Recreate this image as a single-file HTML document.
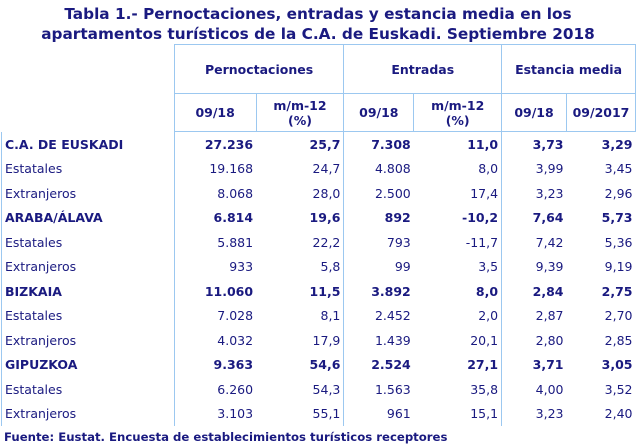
<!DOCTYPE html>
<html><head><meta charset="utf-8"><style>
body{margin:0;width:636px;height:448px;background:#fff;font-family:"DejaVu Sans","Liberation Sans",sans-serif;color:#1a1a80;position:relative;overflow:hidden}
.t{position:absolute;left:0;top:4px;width:636px;text-align:center;font-weight:bold;font-size:15.3px;line-height:20px;color:#1a1a80}
table{position:absolute;left:1px;top:44px;border-collapse:collapse;table-layout:fixed;font-size:12.5px}
td{padding:0 3px;height:24.5px;text-align:right;white-space:nowrap}
td:first-child{text-align:left;padding-left:3px}
.b td{font-weight:bold}
.h td{text-align:center;font-weight:bold;border:1px solid #9cc8f0}
.h td.e{border:none;border-right:1px solid #9cc8f0}
.v{border-left:1px solid #9cc8f0}
tbody tr td:first-child{border-left:1px solid #9cc8f0}
.f{position:absolute;left:4px;top:430px;font-weight:bold;font-size:11.7px}
</style></head><body>
<div class="t">Tabla 1.- Pernoctaciones, entradas y estancia media en los<br>apartamentos turísticos de la C.A. de Euskadi. Septiembre 2018</div>
<table>
<colgroup><col style="width:173px"><col style="width:82px"><col style="width:88px"><col style="width:70px"><col style="width:88px"><col style="width:65px"><col style="width:69px"></colgroup>
<thead>
<tr class="h" style="height:49px"><td class="e" rowspan="1"></td><td colspan="2">Pernoctaciones</td><td colspan="2">Entradas</td><td colspan="2">Estancia media</td></tr>
<tr class="h" style="height:38px"><td class="e"></td><td>09/18</td><td style="line-height:15px">m/m-12<br>(%)</td><td>09/18</td><td style="line-height:15px">m/m-12<br>(%)</td><td>09/18</td><td>09/2017</td></tr>
</thead>
<tbody>
<tr class="b"><td>C.A. DE EUSKADI</td><td class="v">27.236</td><td>25,7</td><td class="v">7.308</td><td>11,0</td><td class="v">3,73</td><td>3,29</td></tr>
<tr><td>Estatales</td><td class="v">19.168</td><td>24,7</td><td class="v">4.808</td><td>8,0</td><td class="v">3,99</td><td>3,45</td></tr>
<tr><td>Extranjeros</td><td class="v">8.068</td><td>28,0</td><td class="v">2.500</td><td>17,4</td><td class="v">3,23</td><td>2,96</td></tr>
<tr class="b"><td>ARABA/ÁLAVA</td><td class="v">6.814</td><td>19,6</td><td class="v">892</td><td>-10,2</td><td class="v">7,64</td><td>5,73</td></tr>
<tr><td>Estatales</td><td class="v">5.881</td><td>22,2</td><td class="v">793</td><td>-11,7</td><td class="v">7,42</td><td>5,36</td></tr>
<tr><td>Extranjeros</td><td class="v">933</td><td>5,8</td><td class="v">99</td><td>3,5</td><td class="v">9,39</td><td>9,19</td></tr>
<tr class="b"><td>BIZKAIA</td><td class="v">11.060</td><td>11,5</td><td class="v">3.892</td><td>8,0</td><td class="v">2,84</td><td>2,75</td></tr>
<tr><td>Estatales</td><td class="v">7.028</td><td>8,1</td><td class="v">2.452</td><td>2,0</td><td class="v">2,87</td><td>2,70</td></tr>
<tr><td>Extranjeros</td><td class="v">4.032</td><td>17,9</td><td class="v">1.439</td><td>20,1</td><td class="v">2,80</td><td>2,85</td></tr>
<tr class="b"><td>GIPUZKOA</td><td class="v">9.363</td><td>54,6</td><td class="v">2.524</td><td>27,1</td><td class="v">3,71</td><td>3,05</td></tr>
<tr><td>Estatales</td><td class="v">6.260</td><td>54,3</td><td class="v">1.563</td><td>35,8</td><td class="v">4,00</td><td>3,52</td></tr>
<tr><td>Extranjeros</td><td class="v">3.103</td><td>55,1</td><td class="v">961</td><td>15,1</td><td class="v">3,23</td><td>2,40</td></tr>
</tbody></table>
<div class="f">Fuente: Eustat. Encuesta de establecimientos turísticos receptores</div>
</body></html>
